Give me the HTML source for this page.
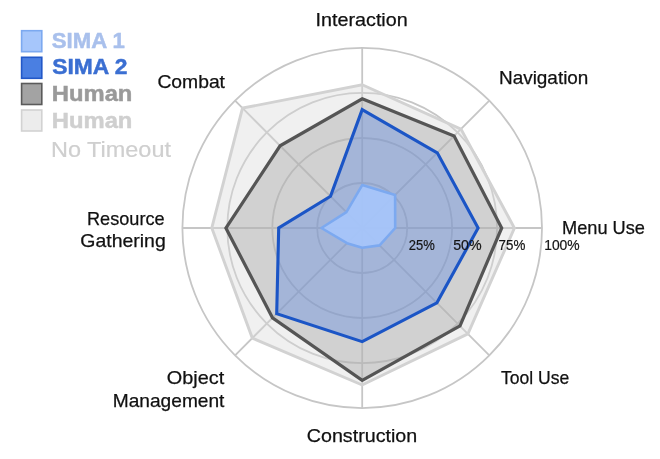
<!DOCTYPE html>
<html lang="en"><head><meta charset="utf-8"><title>SIMA radar chart</title>
<style>html,body{margin:0;padding:0;background:#fff}body{width:660px;height:459px;overflow:hidden}</style></head>
<body>
<svg width="660" height="459" viewBox="0 0 660 459" style="display:block" font-family="'Liberation Sans', Arial, sans-serif">
<rect width="660" height="459" fill="#ffffff"/>
<g fill="none" stroke="#c6c6c6" stroke-width="1.8">
<ellipse cx="362.2" cy="228.0" rx="45.0" ry="45.0"/>
<ellipse cx="362.2" cy="228.0" rx="89.9" ry="90.0"/>
<ellipse cx="362.2" cy="228.0" rx="134.9" ry="135.1"/>
<ellipse cx="362.2" cy="228.0" rx="179.8" ry="180.1"/>
<line x1="362.2" y1="228.0" x2="362.2" y2="47.9"/>
<line x1="362.2" y1="228.0" x2="489.3" y2="100.7"/>
<line x1="362.2" y1="228.0" x2="542.0" y2="228.0"/>
<line x1="362.2" y1="228.0" x2="489.3" y2="355.3"/>
<line x1="362.2" y1="228.0" x2="362.2" y2="408.1"/>
<line x1="362.2" y1="228.0" x2="235.1" y2="355.3"/>
<line x1="362.2" y1="228.0" x2="182.4" y2="228.0"/>
<line x1="362.2" y1="228.0" x2="235.1" y2="100.7"/>
</g>
<polygon points="362.2,84.8 461.0,129.1 514.4,228.0 467.9,333.9 362.2,385.0 252.3,338.1 211.8,228.0 242.5,108.1" fill="#d9d9d9" fill-opacity="0.40" stroke="#d2d2d2" stroke-width="2.9" stroke-linejoin="miter"/>
<polygon points="362.2,98.8 454.1,135.9 501.7,228.0 460.0,325.9 362.2,380.3 272.5,317.8 225.9,228.0 280.1,145.8" fill="#8f8f8f" fill-opacity="0.31" stroke="#555555" stroke-width="3.2" stroke-linejoin="miter"/>
<polygon points="362.2,109.6 437.3,152.8 478.1,228.0 436.9,302.8 362.2,341.6 276.7,313.6 278.7,228.0 330.5,196.3" fill="#5080e7" fill-opacity="0.34" stroke="#1b55c6" stroke-width="3.1" stroke-linejoin="miter"/>
<polygon points="362.2,185.1 395.1,195.0 395.2,228.0 379.6,245.4 362.2,247.7 347.0,243.2 321.4,228.0 346.4,212.1" fill="#a6c6fb" fill-opacity="0.92" stroke="#7ca9f0" stroke-width="2.6" stroke-linejoin="round"/>
<g font-size="13.8" fill="#151515" stroke="#151515" stroke-width="0.2">
<text x="408.7" y="250.3" textLength="26.0" lengthAdjust="spacingAndGlyphs">25%</text>
<text x="453.2" y="250.3" textLength="28.4" lengthAdjust="spacingAndGlyphs">50%</text>
<text x="498.5" y="250.3" textLength="26.8" lengthAdjust="spacingAndGlyphs">75%</text>
<text x="544.2" y="250.3" textLength="35.5" lengthAdjust="spacingAndGlyphs">100%</text>
</g>
<g font-size="18.5" fill="#111111" stroke="#111111" stroke-width="0.25">
<text x="315.6" y="26.4" textLength="92.1" lengthAdjust="spacingAndGlyphs">Interaction</text>
<text x="499.0" y="84.0" textLength="89.4" lengthAdjust="spacingAndGlyphs">Navigation</text>
<text x="562.0" y="234.3" textLength="83.0" lengthAdjust="spacingAndGlyphs">Menu Use</text>
<text x="501.0" y="384.3" textLength="68.3" lengthAdjust="spacingAndGlyphs">Tool Use</text>
<text x="306.8" y="441.8" textLength="110.4" lengthAdjust="spacingAndGlyphs">Construction</text>
<text x="166.8" y="384.4" textLength="57.4" lengthAdjust="spacingAndGlyphs">Object</text>
<text x="112.8" y="406.7" textLength="111.6" lengthAdjust="spacingAndGlyphs">Management</text>
<text x="87.0" y="224.8" textLength="77.6" lengthAdjust="spacingAndGlyphs">Resource</text>
<text x="80.3" y="246.5" textLength="85.4" lengthAdjust="spacingAndGlyphs">Gathering</text>
<text x="157.4" y="87.7" textLength="67.6" lengthAdjust="spacingAndGlyphs">Combat</text>
</g>
<rect x="21.6" y="30.7" width="20.2" height="21" fill="#a6c6fb" stroke="#7ca9f0" stroke-width="1.6"/>
<rect x="21.6" y="57.3" width="20.2" height="21" fill="#4a7fe2" stroke="#2258c8" stroke-width="1.6"/>
<rect x="21.6" y="83.5" width="20.2" height="21" fill="#a3a3a3" stroke="#5a5a5a" stroke-width="1.6"/>
<rect x="21.6" y="110.0" width="20.2" height="21" fill="#ececec" stroke="#d2d2d2" stroke-width="1.6"/>
<text x="51.8" y="47.8" font-size="22.3" font-weight="bold" fill="#a9c0ec" stroke="#a9c0ec" stroke-width="0.5" textLength="73.0" lengthAdjust="spacingAndGlyphs">SIMA 1</text>
<text x="52.3" y="74.0" font-size="22.3" font-weight="bold" fill="#3b6fd2" stroke="#3b6fd2" stroke-width="0.5" textLength="75.2" lengthAdjust="spacingAndGlyphs">SIMA 2</text>
<text x="51.8" y="101.1" font-size="22.3" font-weight="bold" fill="#9a9a9a" stroke="#9a9a9a" stroke-width="0.5" textLength="80.6" lengthAdjust="spacingAndGlyphs">Human</text>
<text x="51.8" y="128.0" font-size="22.3" font-weight="bold" fill="#cfcfcf" stroke="#cfcfcf" stroke-width="0.5" textLength="80.6" lengthAdjust="spacingAndGlyphs">Human</text>
<text x="51.0" y="156.9" font-size="22.3" font-weight="normal" fill="#cfcfcf" stroke="#cfcfcf" stroke-width="0.2" textLength="120.0" lengthAdjust="spacingAndGlyphs">No Timeout</text>
</svg>
</body></html>
